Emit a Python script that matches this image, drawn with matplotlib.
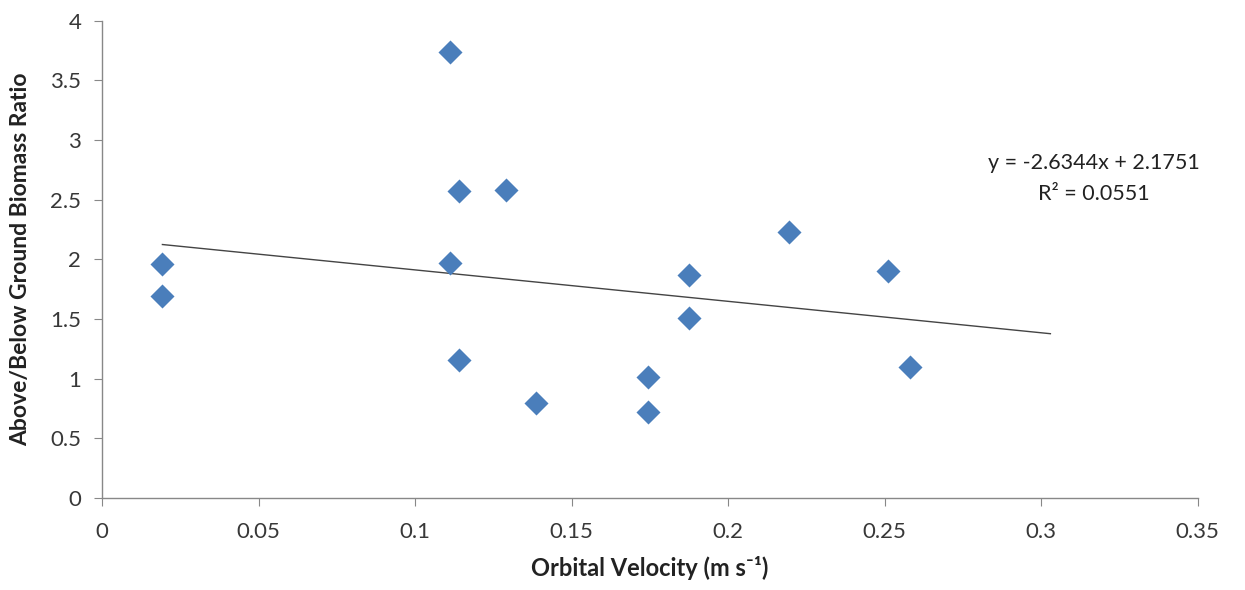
import numpy as np
import matplotlib.pyplot as plt

# orbital velocity (m/s) and above/below ground biomass ratio
velocity = [0.0193, 0.0193, 0.1113, 0.1139, 0.1292, 0.1113, 0.1139, 0.1388,
            0.1743, 0.1743, 0.1874, 0.1874, 0.2196, 0.2510, 0.2583]
ratio = [1.96, 1.69, 3.74, 2.57, 2.58, 1.97, 1.16, 0.80,
         1.01, 0.72, 1.87, 1.51, 2.23, 1.90, 1.10]

# linear trendline
slope = -2.6344
intercept = 2.1751
r_squared = 0.0551
trend_x = [0.0193, 0.303]

x_ticks = [0, 0.05, 0.1, 0.15, 0.2, 0.25, 0.3, 0.35]
y_ticks = [0, 0.5, 1, 1.5, 2, 2.5, 3, 3.5, 4]

plt.rcParams['font.family'] = ['Lato', 'DejaVu Sans']

fig = plt.figure(figsize=(12.45, 5.9), dpi=100)
ax = fig.add_axes([102 / 1245, 1 - 498 / 590, (1197.5 - 102) / 1245, (498 - 20.7) / 590])

ax.scatter(velocity, ratio, marker='D', s=150, color='#4a7ebb', zorder=3, linewidths=0)
tx = np.array(trend_x)
ax.plot(tx, slope * tx + intercept, color='#444444', lw=1.0, zorder=2)

ax.text(0.317, 2.81, f'y = {slope}x + {intercept}', fontsize=15.5, ha='center', va='center', color='#222222')
ax.text(0.317, 2.55, f'R² = {r_squared}', fontsize=15.5, ha='center', va='center', color='#222222')

ax.set_xlim(0, 0.35)
ax.set_ylim(0, 4)
ax.set_xticks(x_ticks)
ax.set_xticklabels([f'{v:g}' for v in x_ticks])
ax.set_yticks(y_ticks)
ax.set_yticklabels([f'{v:g}' for v in y_ticks])

for side in ['top', 'right']:
    ax.spines[side].set_visible(False)
for side in ['left', 'bottom']:
    ax.spines[side].set_color('#888888')
    ax.spines[side].set_linewidth(1.0)
ax.tick_params(axis='both', colors='#888888', length=6, labelsize=16, labelcolor='#383838')
ax.tick_params(axis='x', pad=11)
ax.tick_params(axis='y', pad=9)

ax.set_xlabel('Orbital Velocity (m s⁻¹)', fontsize=17, fontweight='bold', color='#222222', labelpad=10)
ax.set_ylabel('Above/Below Ground Biomass Ratio', fontsize=16.5, fontweight='bold', color='#222222', labelpad=14)

fig.savefig('out.png', dpi=100)
